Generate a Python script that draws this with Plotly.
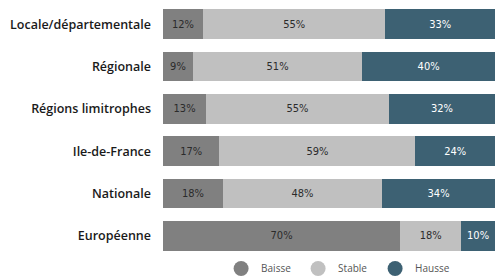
import plotly.graph_objects as go

categories = ["Locale/départementale", "Régionale", "Régions limitrophes",
              "Ile-de-France", "Nationale", "Européenne"]
baisse = [12, 9, 13, 17, 18, 70]
stable = [55, 51, 55, 59, 48, 18]
hausse = [33, 40, 32, 24, 34, 10]

series = [
    ("Baisse", baisse, "#808080", "#2b2b2b"),
    ("Stable", stable, "#c0c0c0", "#2b2b2b"),
    ("Hausse", hausse, "#3d6173", "#ffffff"),
]

fig = go.Figure()
for name, vals, color, tcolor in series:
    fig.add_trace(go.Bar(
        y=categories, x=vals, orientation="h", name=name,
        marker=dict(color=color, line=dict(width=0)),
        text=[f"{v}%" for v in vals], textposition="inside",
        insidetextanchor="middle", constraintext="none",
        textfont=dict(family="DejaVu Sans Condensed, Liberation Sans Narrow, sans-serif",
                      size=11, color=tcolor),
        showlegend=False, hoverinfo="skip",
    ))
    fig.add_trace(go.Scatter(
        x=[None], y=[None], mode="markers", name=name,
        marker=dict(symbol="circle", size=15, color=color),
        showlegend=True,
    ))

fig.update_layout(
    width=495, height=277,
    margin=dict(l=163, r=0, t=3, b=20, autoexpand=False),
    barmode="stack", barnorm="percent", bargap=0.3,
    plot_bgcolor="white", paper_bgcolor="white",
    xaxis=dict(visible=False, range=[0, 100], fixedrange=True, automargin=False),
    yaxis=dict(autorange="reversed", showgrid=False, zeroline=False, showline=False,
               ticks="", ticklabelstandoff=11, automargin=False, fixedrange=True,
               tickfont=dict(family="Open Sans", size=12.5, color="#1a1a1a", weight=600)),
    legend=dict(orientation="h", x=0.175, xanchor="left", y=-0.045, yanchor="middle",
                traceorder="normal",
                font=dict(family="Open Sans", size=10, color="#555555"),
                entrywidth=32, entrywidthmode="pixels", itemsizing="trace"),
    showlegend=True,
)

fig.write_html("out.html", config={"displayModeBar": False},
               post_script="document.body.style.margin='0';document.body.style.overflow='hidden';")
